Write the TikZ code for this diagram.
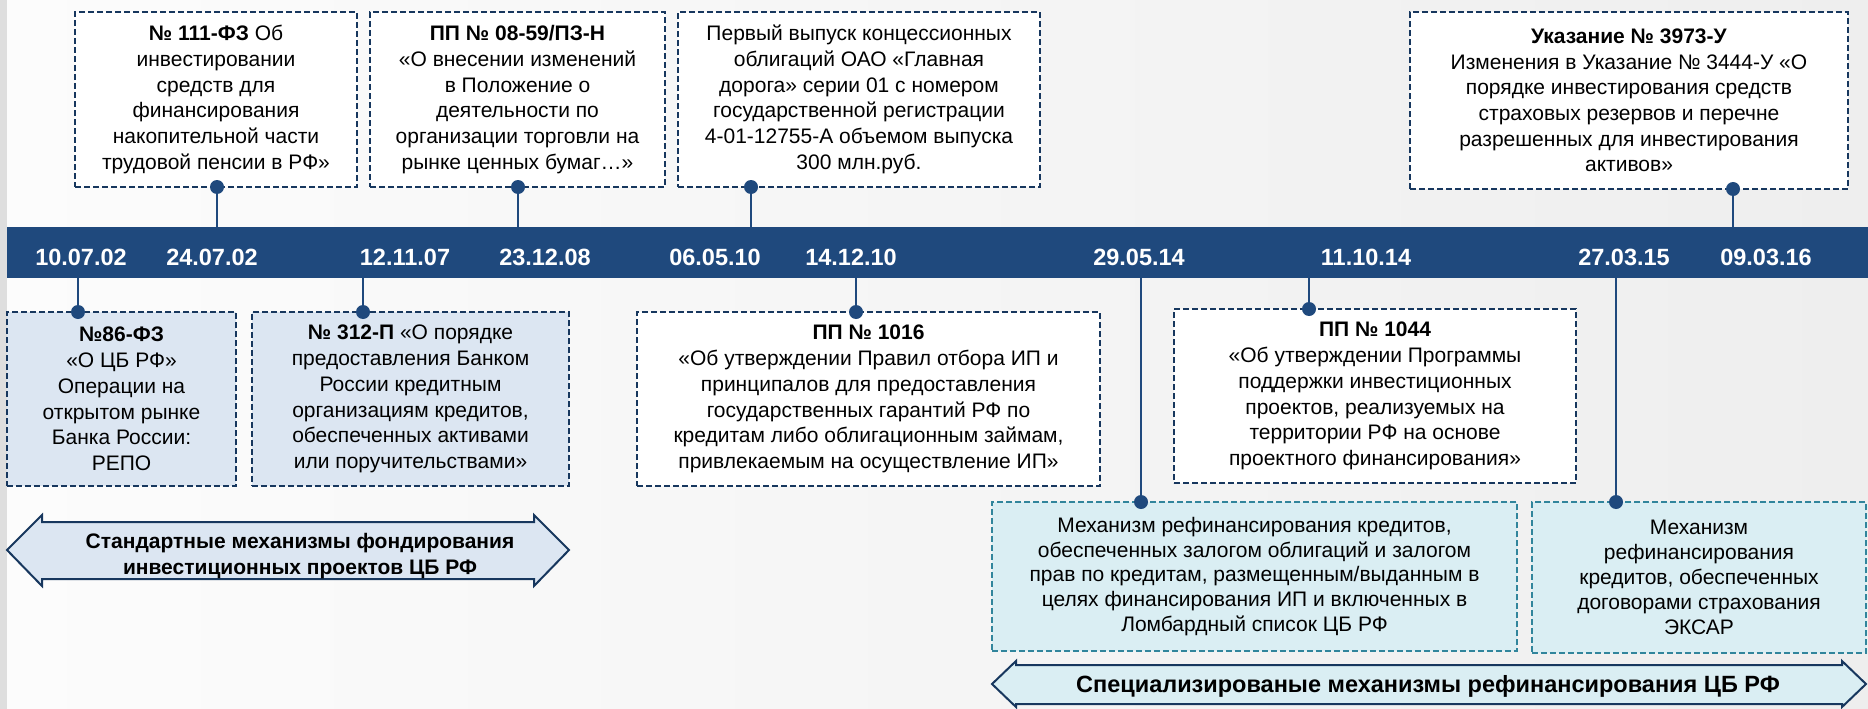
\documentclass[tikz,border=0pt]{standalone}
\usepackage{fontspec}
\setmainfont{Liberation Sans}
\usetikzlibrary{calc}
\definecolor{barblue}{RGB}{31,73,125}
\definecolor{navy}{RGB}{23,55,94}
\definecolor{lblue}{RGB}{220,230,242}
\definecolor{lcyan}{RGB}{218,238,243}
\definecolor{tealb}{RGB}{49,133,156}
\definecolor{bgA}{RGB}{252,252,252}
\definecolor{bgB}{RGB}{238,238,238}
\definecolor{stripg}{RGB}{222,222,222}
\begin{document}
\begin{tikzpicture}[x=1pt,y=-1pt,
  box/.style={draw=navy, line width=1.6pt, dash pattern=on 6pt off 3pt,
    align=center, inner sep=0pt, outer sep=0pt, text=black,
    font=\fontsize{21}{25.7}\selectfont},
  topbox/.style={box, fill=white},
  bluebox/.style={box, fill=lblue},
  whitebox/.style={box, fill=white},
  mechbox/.style={box, draw=tealb, fill=lcyan, font=\fontsize{21}{24.9}\selectfont},
  datetxt/.style={text=white, font=\bfseries\fontsize{23.5}{28}\selectfont, anchor=base, inner sep=0pt},
  conn/.style={draw=barblue, line width=2.4pt},
  dot/.style={fill=barblue},
  arrshape/.style={draw=navy, line width=2pt, line join=miter},
  arrtxt/.style={align=center, inner sep=0pt, text=black, font=\bfseries\fontsize{21}{25.5}\selectfont}]
\useasboundingbox (0,0) rectangle (1868,709);
\shade[left color=bgA, right color=bgB] (0,0) rectangle (1868,709);
\fill[stripg] (0,0) rectangle (7,709);

% timeline bar
\node[fill=barblue, minimum width=1861pt, minimum height=51pt, inner sep=0pt, outer sep=0pt, anchor=north west] (bar) at (7,227) {};
\node[datetxt] (t1) at (81,265) {10.07.02};
\node[datetxt] (t2) at (212,265) {24.07.02};
\node[datetxt] (t3) at (405,265) {12.11.07};
\node[datetxt] (t4) at (545,265) {23.12.08};
\node[datetxt] (t5) at (715,265) {06.05.10};
\node[datetxt] (t6) at (851,265) {14.12.10};
\node[datetxt] (t7) at (1139,265) {29.05.14};
\node[datetxt] (t8) at (1366,265) {11.10.14};
\node[datetxt] (t9) at (1624,265) {27.03.15};
\node[datetxt] (t10) at (1766,265) {09.03.16};

% top boxes
\node[topbox, minimum width=282pt, minimum height=175pt] (b1) at (216,99.5)
 {\textbf{№ 111-ФЗ} Об\\инвестировании\\средств для\\финансирования\\накопительной части\\трудовой пенсии в РФ»};
\node[topbox, minimum width=295pt, minimum height=175pt] (b2) at (517.5,99.5)
 {\textbf{ПП № 08-59/ПЗ-Н}\\«О внесении изменений\\в Положение о\\деятельности по\\организации торговли на\\рынке ценных бумаг…»};
\node[topbox, minimum width=362pt, minimum height=175pt] (b3) at (859,99.5)
 {Первый выпуск концессионных\\облигаций ОАО «Главная\\дорога» серии 01 с номером\\государственной регистрации\\4-01-12755-А объемом выпуска\\300 млн.руб.};
\node[topbox, minimum width=438pt, minimum height=177pt] (b4) at (1629,100.5)
 {\textbf{Указание № 3973-У}\\Изменения в Указание № 3444-У «О\\порядке инвестирования средств\\страховых резервов и перечне\\разрешенных для инвестирования\\активов»};

% bottom boxes
\node[bluebox, minimum width=229pt, minimum height=174pt] (b5) at (121.5,399)
 {\textbf{№86-ФЗ}\\«О ЦБ РФ»\\Операции на\\открытом рынке\\Банка России:\\РЕПО};
\node[bluebox, minimum width=317pt, minimum height=174pt] (b6) at (410.5,399)
 {\textbf{№ 312-П} «О порядке\\предоставления Банком\\России кредитным\\организациям кредитов,\\обеспеченных активами\\или поручительствами»};
\node[whitebox, minimum width=463pt, minimum height=174pt] (b7) at (868.5,399)
 {\textbf{ПП № 1016}\\«Об утверждении Правил отбора ИП и\\принципалов для предоставления\\государственных гарантий РФ по\\кредитам либо облигационным займам,\\привлекаемым на осуществление ИП»};
\node[whitebox, minimum width=402pt, minimum height=174pt] (b8) at (1375,396)
 {\textbf{ПП № 1044}\\«Об утверждении Программы\\поддержки инвестиционных\\проектов, реализуемых на\\территории РФ на основе\\проектного финансирования»};
\node[mechbox, minimum width=525pt, minimum height=149pt] (b9) at (1254.5,576.5)
 {Механизм рефинансирования кредитов,\\обеспеченных залогом облигаций и залогом\\прав по кредитам, размещенным/выданным в\\целях финансирования ИП и включенных в\\Ломбардный список ЦБ РФ};
\node[mechbox, minimum width=334pt, minimum height=151pt] (b10) at (1699,577.5)
 {Механизм\\рефинансирования\\кредитов, обеспеченных\\договорами страхования\\ЭКСАР};

% connector points
\coordinate (c1) at (217,187);
\coordinate (c2) at (518,187);
\coordinate (c3) at (751,187);
\coordinate (c4) at (1733,189);
\coordinate (c5) at (78,312);
\coordinate (c6) at (363,312);
\coordinate (c7) at (856,312);
\coordinate (c8) at (1309,309);
\coordinate (c9) at (1141,502);
\coordinate (c10) at (1616,502);

\foreach \c in {c1,c2,c3,c4}{
  \draw[conn] (\c) -- (\c |- bar.north);
  \fill[dot] (\c) circle (7pt);
}
\foreach \c in {c5,c6,c7,c8,c9,c10}{
  \draw[conn] (\c |- bar.south) -- (\c);
  \fill[dot] (\c) circle (7pt);
}

% mechanism arrows
\draw[arrshape, fill=lblue] (7,550) -- (42,515) -- (42,522) -- (534,522) -- (534,515) -- (569,550) -- (534,586) -- (534,579) -- (42,579) -- (42,586) -- cycle;
\node[arrtxt] (a1) at (300,556) {Стандартные механизмы фондирования\\инвестиционных проектов ЦБ РФ};
\draw[arrshape, fill=lcyan] (992,684) -- (1016,661) -- (1016,665) -- (1842,665) -- (1842,661) -- (1866,684) -- (1842,707) -- (1842,704) -- (1016,704) -- (1016,707) -- cycle;
\node[arrtxt, font=\bfseries\fontsize{23.5}{28}\selectfont] (a2) at (1428,686) {Специализированые механизмы рефинансирования ЦБ РФ};
\end{tikzpicture}
\end{document}
